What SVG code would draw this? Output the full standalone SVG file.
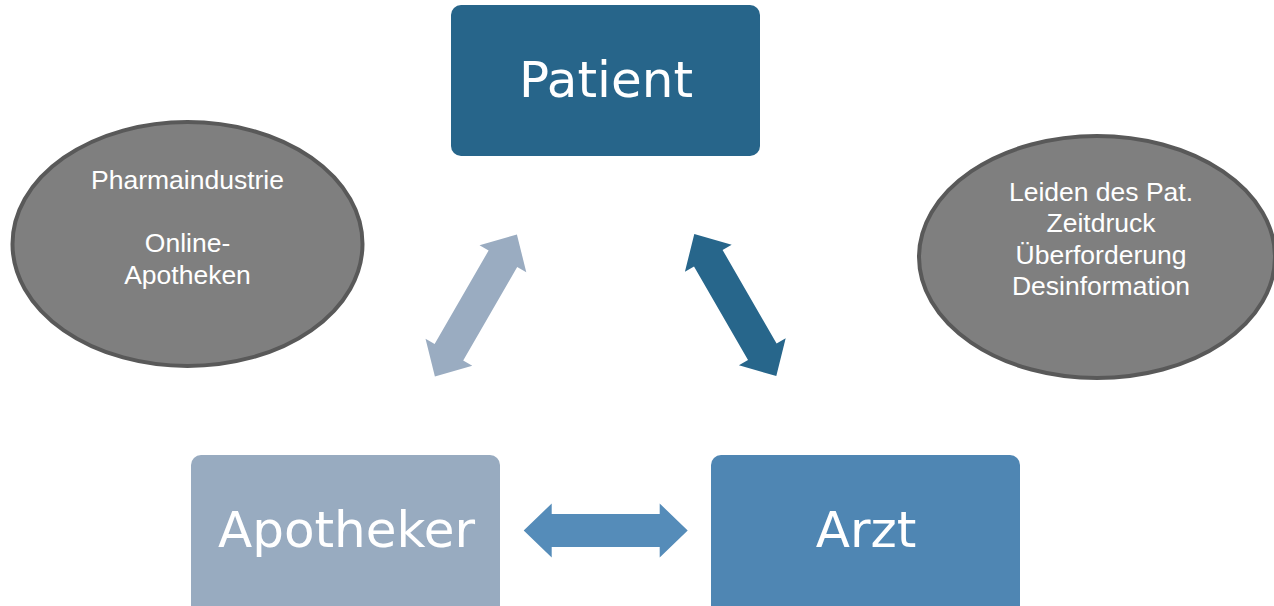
<svg xmlns="http://www.w3.org/2000/svg" width="1274" height="606" viewBox="0 0 1274 606">
  <defs>
    <style>
      .box-text { font-family: "DejaVu Sans", Verdana, sans-serif; font-size: 50px; fill: #ffffff; text-anchor: middle; }
      .ell { fill: #7f7f7f; stroke: #595959; stroke-width: 4; }
      .ell-text { font-family: "Liberation Sans", Arial, sans-serif; font-size: 26.5px; fill: #ffffff; text-anchor: middle; }
    </style>
    <polygon id="dblarrow" points="-82,0 -54,-27 -54,-16.5 54,-16.5 54,-27 82,0 54,27 54,16.5 -54,16.5 -54,27"/>
  </defs>
  <rect width="1274" height="606" fill="#ffffff"/>

  <g id="connectors">
    <use href="#dblarrow" fill="#9aacc1" transform="translate(475.9,305.5) rotate(-60)"/>
    <use href="#dblarrow" fill="#27668b" transform="translate(735.3,305) rotate(60)"/>
    <use href="#dblarrow" fill="#558cb9" transform="translate(605.7,530.5)"/>
  </g>

  <g id="patient">
    <rect x="451" y="5" width="309" height="151" rx="10" fill="#27658a"/>
    <text class="box-text" x="606" y="97">Patient</text>
  </g>

  <g id="apotheker">
    <rect x="191" y="455" width="309" height="160" rx="10" fill="#98abc0"/>
    <text class="box-text" x="346.5" y="547">Apotheker</text>
  </g>

  <g id="arzt">
    <rect x="711" y="455" width="309" height="160" rx="10" fill="#4f86b3"/>
    <text class="box-text" x="866" y="547">Arzt</text>
  </g>

  <g id="ellipse-left">
    <ellipse class="ell" cx="187.5" cy="244" rx="175" ry="122"/>
    <text class="ell-text" x="187.5" y="189">Pharmaindustrie</text>
    <text class="ell-text" x="187.5" y="252">Online-</text>
    <text class="ell-text" x="187.5" y="284">Apotheken</text>
  </g>

  <g id="ellipse-right">
    <ellipse class="ell" cx="1097" cy="257" rx="178" ry="121"/>
    <text class="ell-text" x="1101" y="201">Leiden des Pat.</text>
    <text class="ell-text" x="1101" y="232">Zeitdruck</text>
    <text class="ell-text" x="1101" y="263.5">Überforderung</text>
    <text class="ell-text" x="1101" y="295">Desinformation</text>
  </g>
</svg>
